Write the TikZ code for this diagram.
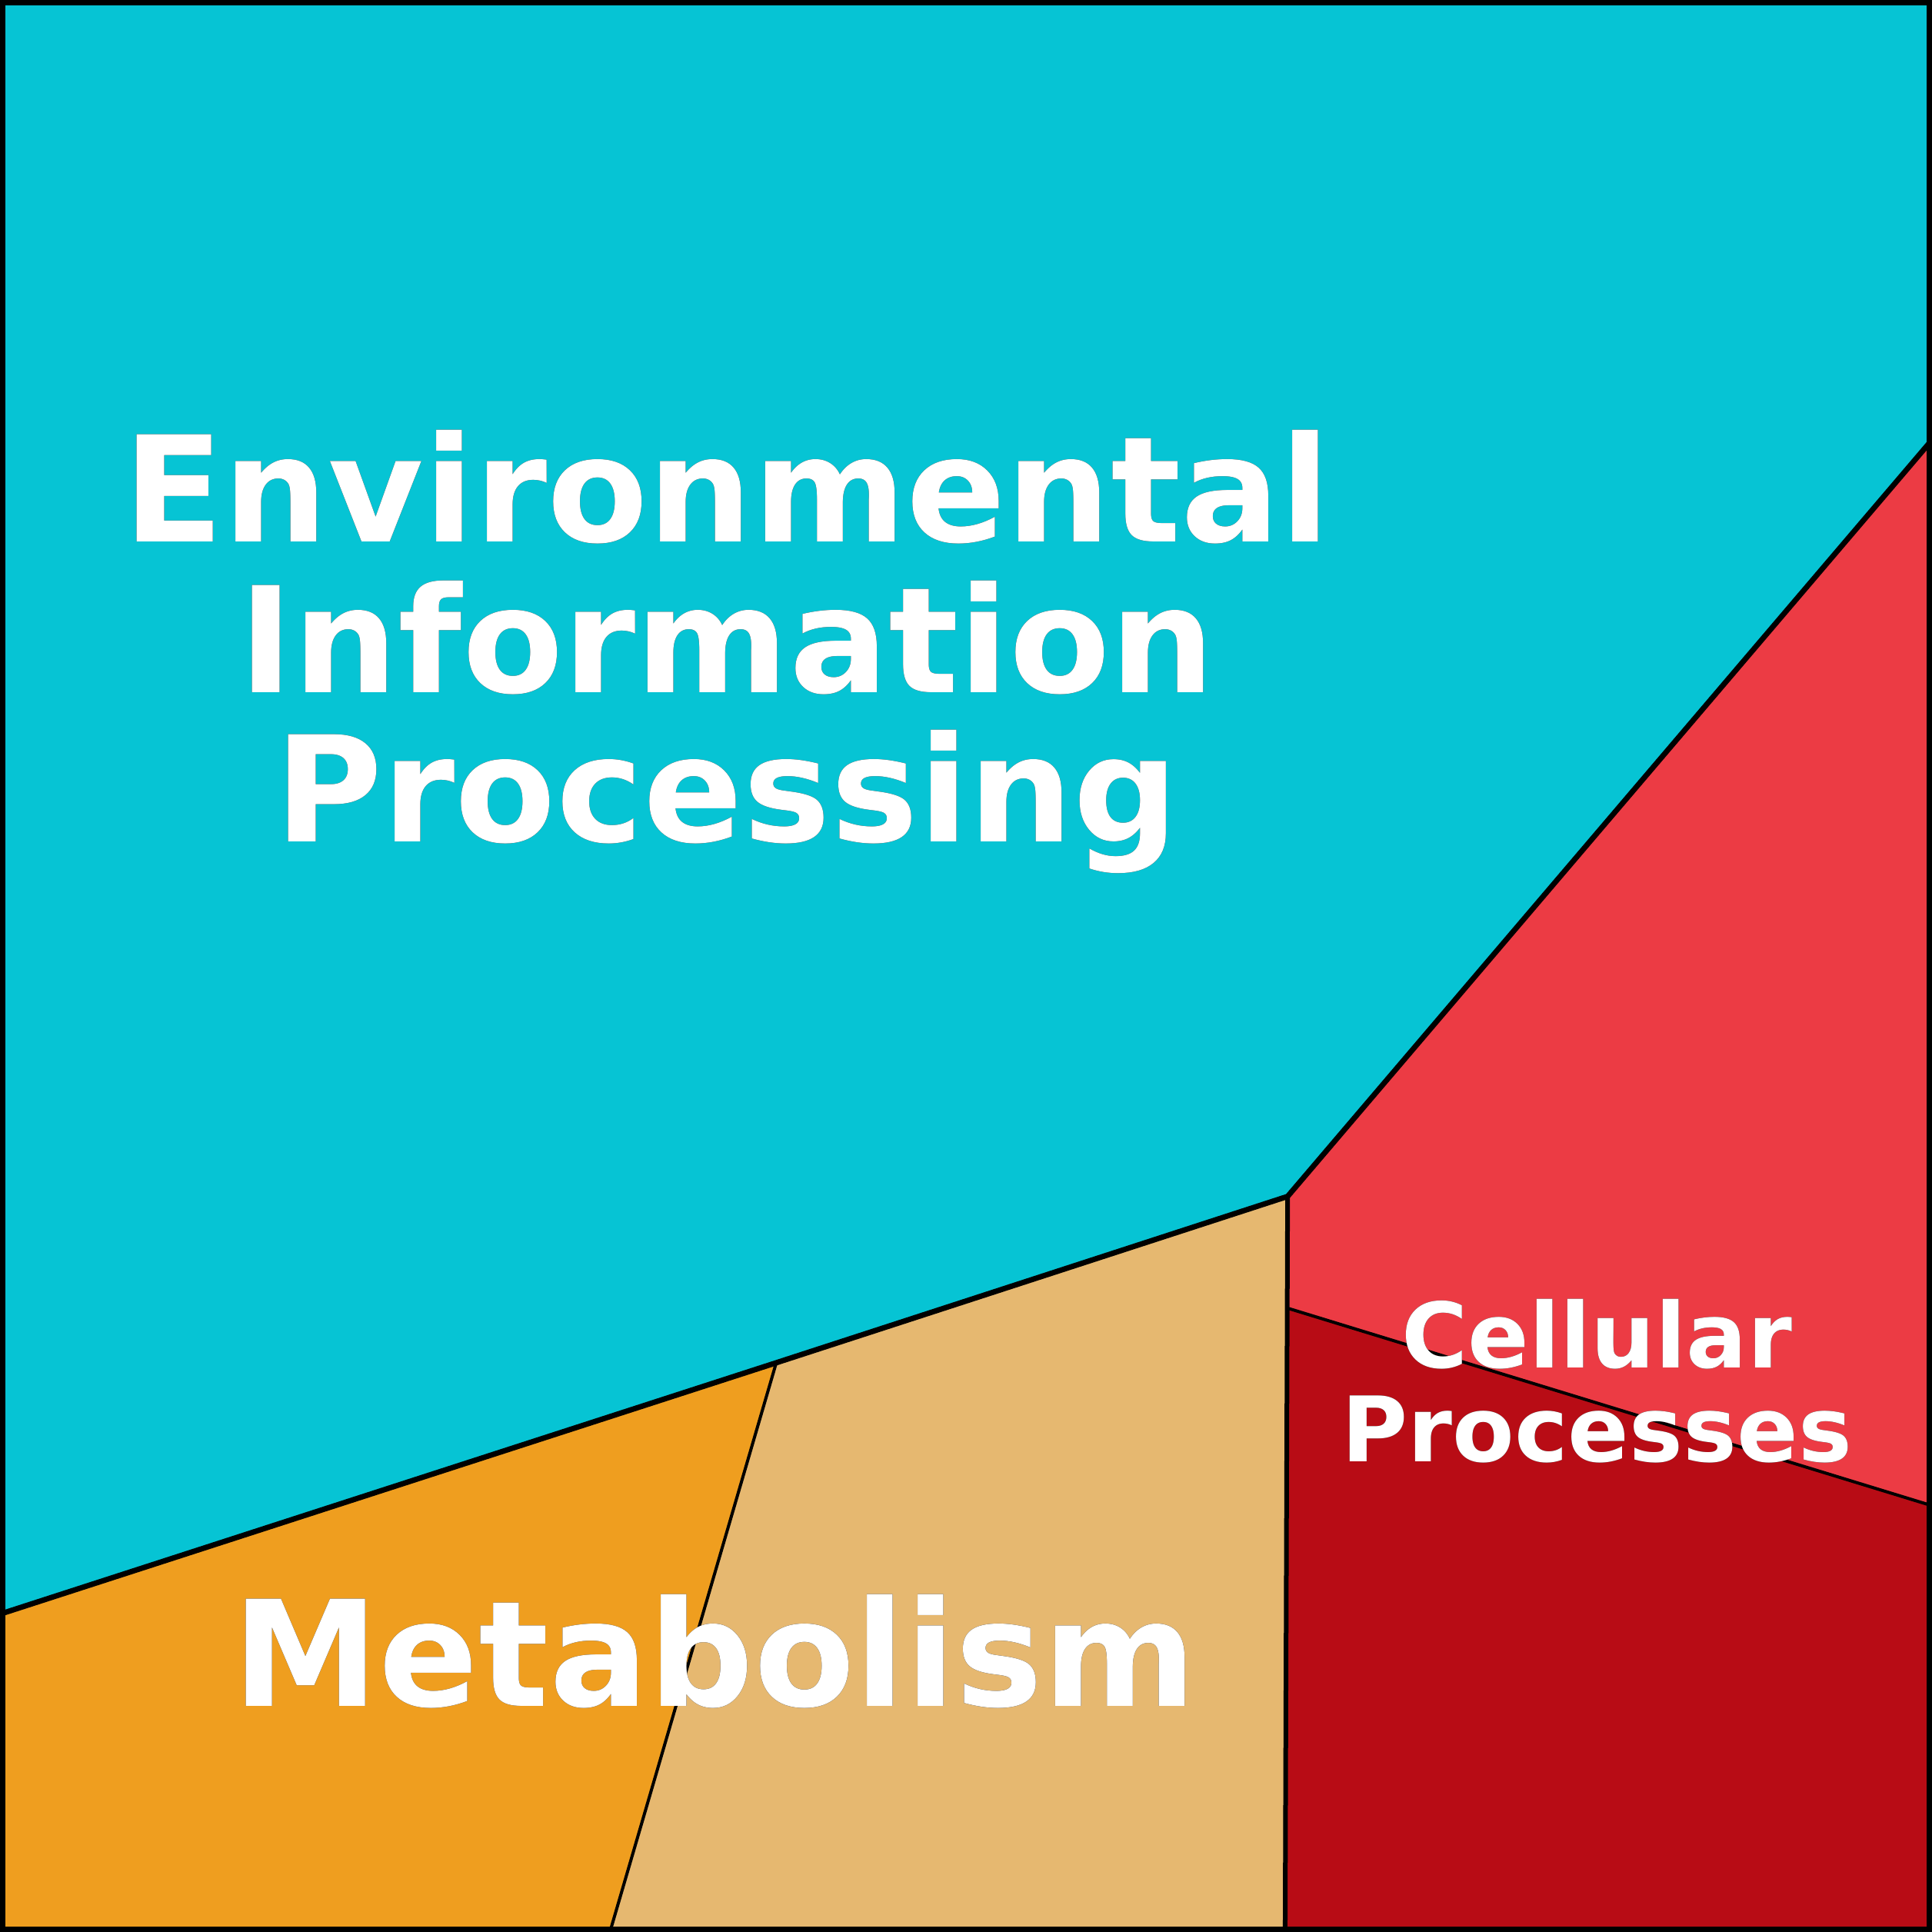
\documentclass[tikz,border=0pt]{standalone}
\usepackage{fontspec}
\setmainfont{DejaVu Sans}
\usepackage[outline]{contour}
\contourlength{1pt}
\definecolor{envcol}{HTML}{06C4D4}
\definecolor{cellcol}{HTML}{EC3B44}
\definecolor{celldark}{HTML}{B80C15}
\definecolor{metatan}{HTML}{E6B870}
\definecolor{metaorange}{HTML}{EF9E1F}
\tikzset{
  region/.style={draw=black, line width=4bp, line join=bevel},
  label/.style={text=white, align=center, inner sep=0pt, anchor=base}
}
\begin{document}
\begin{tikzpicture}[x=1.602bp,y=-1.602bp]
  \useasboundingbox (0,0) rectangle (1568,1568);
  % Nodes: region corners
  \coordinate (tl) at (0,0);
  \coordinate (tr) at (1568,0);
  \coordinate (rtop) at (1568,357);
  \coordinate (hub) at (1045,971);
  \coordinate (mid) at (630,1106);
  \coordinate (lft) at (0,1310);
  \coordinate (cin) at (1046,1062);
  \coordinate (rlow) at (1568,1222);
  \coordinate (br) at (1568,1568);
  \coordinate (bm) at (1043,1568);
  \coordinate (bl2) at (495,1568);
  \coordinate (bl) at (0,1568);
  % Regions
  \fill [envcol] (tl) -- (tr) -- (rtop) -- (hub) -- (mid) -- (lft) -- cycle;
  \fill [cellcol] (hub) -- (rtop) -- (rlow) -- (cin) -- cycle;
  \fill [celldark] (cin) -- (rlow) -- (br) -- (bm) -- cycle;
  \fill [metatan] (mid) -- (hub) -- (bm) -- (bl2) -- cycle;
  \fill [metaorange] (lft) -- (mid) -- (bl2) -- (bl) -- cycle;
  % Edges
  \draw [region, line width=7bp] (rtop) -- (hub) -- (mid) -- (lft);
  \draw [region, line width=6bp] (hub) -- (bm);
  \draw [region] (cin) -- (rlow);
  \draw [region] (mid) -- (bl2);
  \draw [line width=14bp] (tl) rectangle (br);
  % Labels
  \node [label, font=\fontsize{192}{193}\selectfont\bfseries] (envA) at (590,440) {\contour{black}{Environmental}};
  \node [label, font=\fontsize{192}{193}\selectfont\bfseries] (envB) at (590,562) {\contour{black}{Information}};
  \node [label, font=\fontsize{192}{193}\selectfont\bfseries] (envC) at (590,683) {\contour{black}{Processing}};
  \node [label, font=\fontsize{192}{193}\selectfont\bfseries] (meta) at (580,1385) {\contour{black}{Metabolism}};
  \node [label, font=\fontsize{118}{119}\selectfont\bfseries] (cellA) at (1296,1110) {\contour{black}{Cellular}};
  \node [label, font=\fontsize{118}{119}\selectfont\bfseries] (cellB) at (1296,1186) {\contour{black}{Processes}};
\end{tikzpicture}
\end{document}
